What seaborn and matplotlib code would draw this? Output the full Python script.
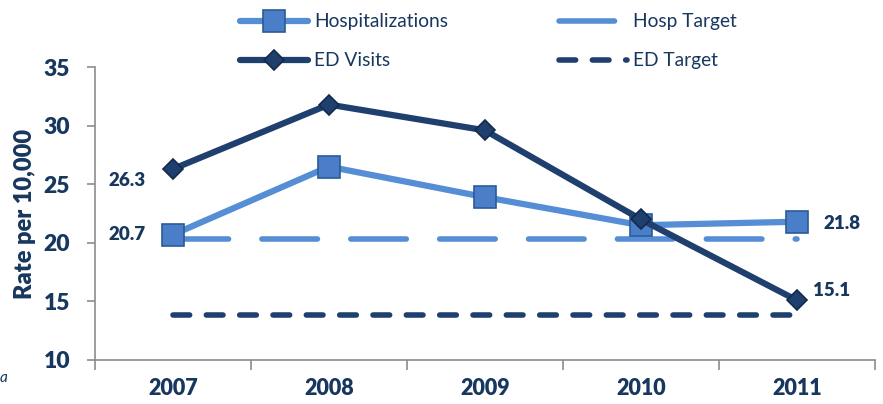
import pandas as pd
import seaborn as sns
import matplotlib.pyplot as plt
from matplotlib.ticker import FixedLocator

years = ['2007', '2008', '2009', '2010', '2011']
hosp = [20.7, 26.5, 23.9, 21.5, 21.8]
ed = [26.3, 31.8, 29.6, 22.0, 15.1]
hosp_target = [20.3, 20.3, 20.3, 20.3, 20.3]
ed_target = [13.8, 13.8, 13.8, 13.8, 13.8]

navy = '#17375E'
light = '#558ED5'
dark = '#1F3F6E'

df = pd.DataFrame({'Year': years, 'Hosp': hosp, 'ED': ed,
                   'HospT': hosp_target, 'EDT': ed_target})

sns.set_style('white')
plt.rcParams['font.family'] = ['Lato', 'DejaVu Sans']

fig = plt.figure(figsize=(8.83, 4.04), dpi=100)
ax = fig.add_axes([0.1076, 0.109, 0.883, 0.725])

sns.lineplot(data=df, x='Year', y='HospT', ax=ax, color=light, lw=4,
             linestyle=(0, (10, 6)), dash_capstyle='round', label='Hosp Target')
sns.lineplot(data=df, x='Year', y='EDT', ax=ax, color=dark, lw=4,
             linestyle=(0, (3, 3)), dash_capstyle='round', label='ED Target')
sns.lineplot(data=df, x='Year', y='Hosp', ax=ax, color=light, lw=4.5,
             marker='s', markersize=15.5, markerfacecolor='#4A7EC8',
             markeredgecolor='#2C5A96', markeredgewidth=1.2, label='Hospitalizations')
sns.lineplot(data=df, x='Year', y='ED', ax=ax, color=dark, lw=4.5,
             marker='D', markersize=10.5, markerfacecolor='#1F3F6E',
             markeredgecolor='#142A4A', markeredgewidth=1.2, label='ED Visits')

# data labels
lab = dict(color=navy, fontsize=13.5, fontweight='heavy', va='center', textcoords='offset points')
ax.annotate(f'{ed[0]}', (years[0], ed[0]), xytext=(-20, -8), ha='right', **lab)
ax.annotate(f'{hosp[0]}', (years[0], hosp[0]), xytext=(-20, 0), ha='right', **lab)
ax.annotate(f'{hosp[-1]}', (years[-1], hosp[-1]), xytext=(19.5, -1), ha='left', **lab)
ax.annotate(f'{ed[-1]}', (years[-1], ed[-1]), xytext=(11.5, 7), ha='left', **lab)

ax.set_xlim(-0.5, 4.5)
ax.set_ylim(10, 35)
ax.set_yticks([10, 15, 20, 25, 30, 35])
ax.set_xlabel('')
ax.set_ylabel('Rate per 10,000', color=navy, fontsize=17, fontweight='heavy', labelpad=5)

for s in ['top', 'right']:
    ax.spines[s].set_visible(False)
for s in ['left', 'bottom']:
    ax.spines[s].set_color('#8C8C8C')
    ax.spines[s].set_linewidth(1.2)

ax.xaxis.set_minor_locator(FixedLocator([-0.5, 0.5, 1.5, 2.5, 3.5, 4.5]))
ax.tick_params(axis='x', which='major', length=0, pad=13, labelsize=15.5, labelcolor=navy)
ax.tick_params(axis='x', which='minor', length=7, width=1.2, color='#8C8C8C', direction='out', bottom=True)
ax.tick_params(axis='y', length=6, width=1.2, color='#8C8C8C', direction='out', left=True,
               labelsize=16.5, labelcolor=navy, pad=12)
for t in ax.get_xticklabels() + ax.get_yticklabels():
    t.set_fontweight('heavy')

h, l = ax.get_legend_handles_labels()
order = [l.index(n) for n in ['Hospitalizations', 'ED Visits', 'Hosp Target', 'ED Target']]
ax.get_legend().remove()
fig.legend([h[i] for i in order], [l[i] for i in order], ncol=2, frameon=False,
           loc='upper left', bbox_to_anchor=(0.2525, 1.01), fontsize=13.8,
           handlelength=3.55, handletextpad=0.3, columnspacing=5.8, labelspacing=1.15,
           labelcolor=navy)

fig.text(0.0, 0.055, 'a', fontsize=11, style='italic', color=navy)

fig.savefig('out.png', dpi=100)
